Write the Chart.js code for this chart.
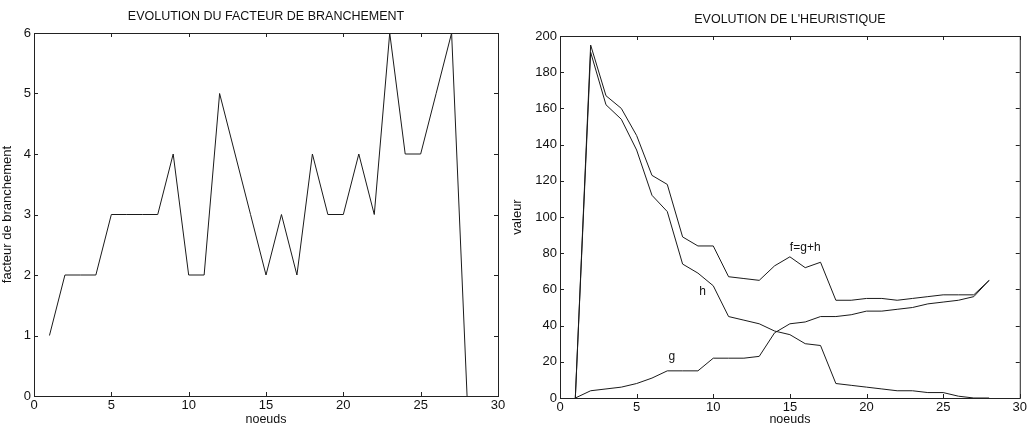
<!DOCTYPE html>
<html>
<head>
<meta charset="utf-8">
<script src="https://cdn.jsdelivr.net/npm/chart.js@4.4.1/dist/chart.umd.min.js"></script>
<style>
  html, body { margin: 0; padding: 0; background: #fff; }
  #wrap { position: relative; width: 1029px; height: 427px; }
  .box { position: absolute; top: 0; height: 427px; }
  #b1 { left: 0; width: 510px; }
  #b2 { left: 510px; width: 519px; }
</style>
</head>
<body>
<div id="wrap">
  <div class="box" id="b1"><canvas id="c1"></canvas></div>
  <div class="box" id="b2"><canvas id="c2"></canvas></div>
</div>
<script>
// noeuds 1..28
const noeuds = [1,2,3,4,5,6,7,8,9,10,11,12,13,14,15,16,17,18,19,20,21,22,23,24,25,26,27,28];
// facteur de branchement
const facteur = [1,2,2,2,3,3,3,3,4,2,2,5,4,3,2,3,2,4,3,3,4,3,6,4,4,5,6,0];
// heuristique
const valF = [0,195,167,160,145,123,118,89,84,84,67,66,65,73,78,72,75,54,54,55,55,54,55,56,57,57,57,65];
const valH = [0,191,162,154,137,112,103,74,69,62,45,43,41,37,35,30,29,8,7,6,5,4,4,3,3,1,0,0];
const valG = [0,4,5,6,8,11,15,15,15,22,22,22,23,36,41,42,45,45,46,48,48,49,50,52,53,54,56,65];
// etiquettes dans le graphique
const etiquettes = [
    { texte: 'f=g+h', x: 16.0, y: 83 },
    { texte: 'h', x: 9.3, y: 59 },
    { texte: 'g', x: 7.3, y: 23 }
];

const police = '"Liberation Sans", Arial, Helvetica, sans-serif';
Chart.defaults.font.family = police;
Chart.defaults.color = '#111';

const toPoints = (ys) => ys.map((y, i) => ({ x: noeuds[i], y: y }));

// cadre + graduations vers l'interieur (style matlab), titre centre sur la zone du graphe
const cadre = {
    id: 'cadre',
    afterDraw(chart, args, opts) {
        const { ctx, chartArea: a, scales } = chart;
        ctx.save();
        ctx.strokeStyle = '#222';
        ctx.lineWidth = 1;
        ctx.strokeRect(a.left + 0.5, a.top + 0.5, a.right - a.left, a.bottom - a.top);
        const L = 4;
        ctx.beginPath();
        scales.x.ticks.forEach(t => {
            const px = Math.round(scales.x.getPixelForValue(t.value)) + 0.5;
            ctx.moveTo(px, a.bottom); ctx.lineTo(px, a.bottom - L);
            ctx.moveTo(px, a.top); ctx.lineTo(px, a.top + L);
        });
        scales.y.ticks.forEach(t => {
            const py = Math.round(scales.y.getPixelForValue(t.value)) + 0.5;
            ctx.moveTo(a.left, py); ctx.lineTo(a.left + L, py);
            ctx.moveTo(a.right, py); ctx.lineTo(a.right - L, py);
        });
        ctx.stroke();

        ctx.fillStyle = '#111';
        ctx.textAlign = 'center';
        ctx.textBaseline = 'middle';
        ctx.font = '12.5px ' + police;
        ctx.fillText(opts.titre, (a.left + a.right) / 2, opts.titreY);

        if (opts.textes) {
            ctx.font = '12px ' + police;
            opts.textes.forEach(e => {
                ctx.fillText(e.texte, scales.x.getPixelForValue(e.x), scales.y.getPixelForValue(e.y));
            });
        }
        ctx.restore();
    }
};

function options(titre, titreY, yTitre, yMax, yStep, yWidth, xHeight, padTop, padRight, textes) {
    return {
        responsive: true,
        maintainAspectRatio: false,
        animation: false,
        layout: { padding: { left: 0, right: padRight, top: padTop, bottom: 0 } },
        plugins: {
            legend: { display: false },
            tooltip: { enabled: false },
            title: { display: false },
            cadre: { titre: titre, titreY: titreY, textes: textes }
        },
        scales: {
            x: {
                type: 'linear',
                min: 0, max: 30,
                ticks: { stepSize: 5, font: { size: 13 }, padding: 2, maxRotation: 0, color: '#111' },
                grid: { display: false, drawTicks: false, tickLength: 0 },
                border: { display: false },
                title: { display: true, text: 'noeuds', font: { size: 12.5 }, padding: { top: 0, bottom: 0 }, color: '#111' },
                afterFit(s) { s.height = xHeight; }
            },
            y: {
                min: 0, max: yMax,
                ticks: { stepSize: yStep, font: { size: 13 }, padding: 3, color: '#111' },
                grid: { display: false, drawTicks: false, tickLength: 0 },
                border: { display: false },
                title: { display: true, text: yTitre, font: { size: 13 }, padding: { top: 0, bottom: 0 }, color: '#111' },
                afterFit(s) { s.width = yWidth; }
            }
        }
    };
}

const ligne = (data) => ({
    data: data,
    borderColor: '#1a1a1a',
    borderWidth: 1,
    pointRadius: 0,
    tension: 0,
    fill: false
});

new Chart(document.getElementById('c1'), {
    type: 'line',
    data: { datasets: [ligne(toPoints(facteur))] },
    options: options('EVOLUTION DU FACTEUR DE BRANCHEMENT', 17, 'facteur de branchement', 6, 1, 34, 31, 33, 12, null),
    plugins: [cadre]
});

new Chart(document.getElementById('c2'), {
    type: 'line',
    data: { datasets: [ligne(toPoints(valF)), ligne(toPoints(valH)), ligne(toPoints(valG))] },
    options: options("EVOLUTION DE L'HEURISTIQUE", 20, 'valeur', 200, 20, 50, 29, 36, 6, etiquettes),
    plugins: [cadre]
});
</script>
</body>
</html>
